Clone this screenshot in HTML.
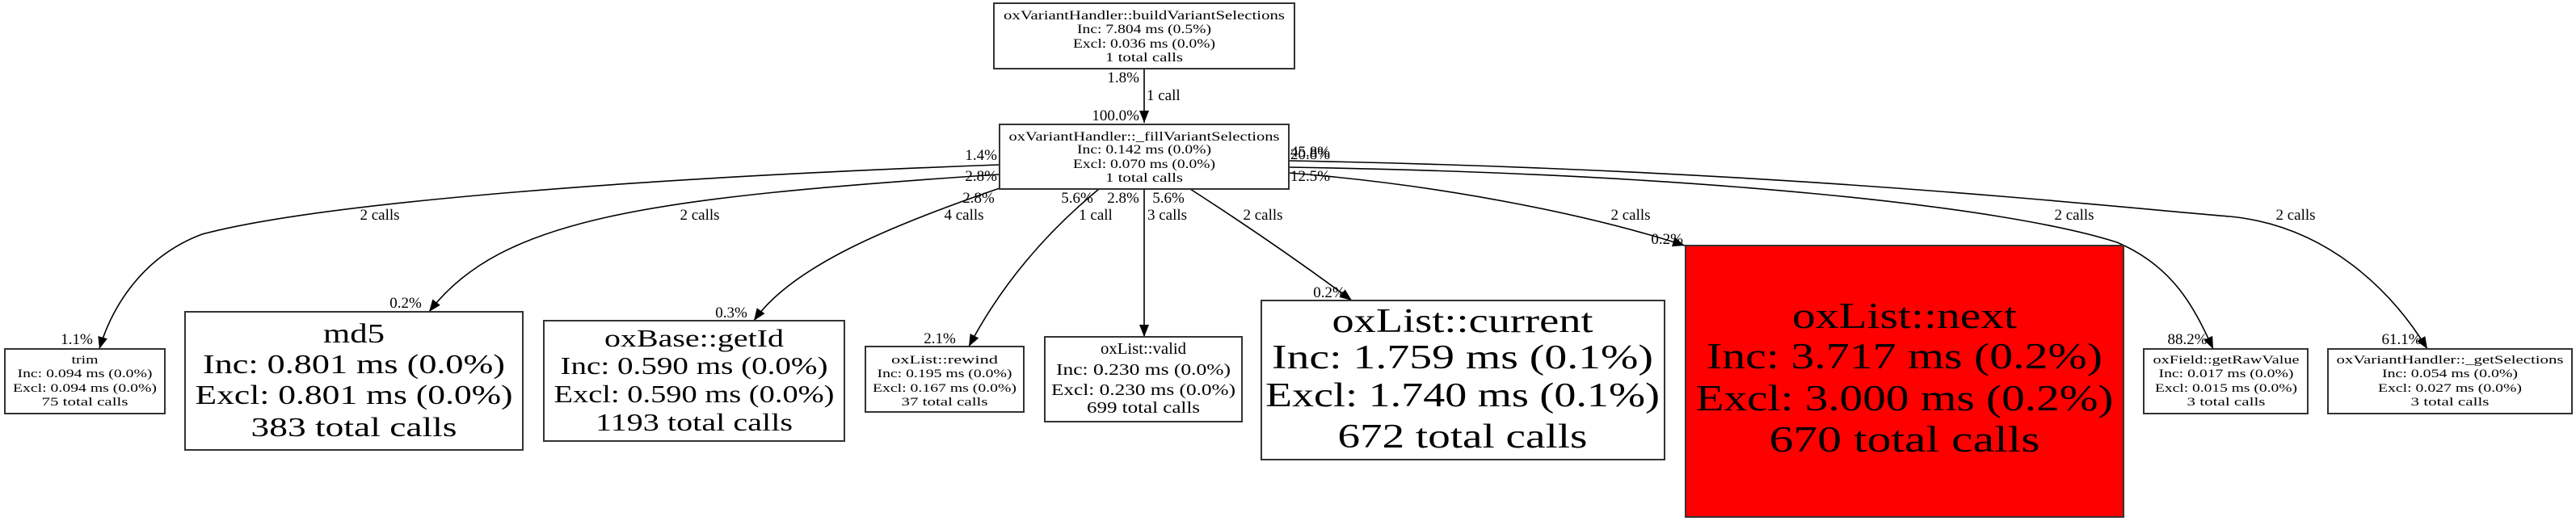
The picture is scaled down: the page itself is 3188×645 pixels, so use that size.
<!DOCTYPE html>
<html><head><meta charset="utf-8"><style>html,body{margin:0;padding:0;background:#fff}svg{display:block}text{font-family:"Liberation Serif",serif;fill:#000}</style></head><body>
<svg width="3188" height="645" viewBox="0 0 3188 645" xmlns="http://www.w3.org/2000/svg">
<defs><marker id="a" markerUnits="userSpaceOnUse" markerWidth="16" markerHeight="12" refX="15" refY="6" orient="auto"><path d="M0,0 L15,6 L0,12 z" fill="#000"/></marker></defs>
<g fill="none" stroke="#000" stroke-width="1.6">
<path d="M1416,85 L1416,152" marker-end="url(#a)"/>
<path d="M1236,204 C800,220 400,250 250,290 C170,320 135,390 123,432" marker-end="url(#a)"/>
<path d="M1236,216 C800,245 620,270 531,386" marker-end="url(#a)"/>
<path d="M1240,232 C1100,280 980,330 933,397" marker-end="url(#a)"/>
<path d="M1360,234 C1280,300 1230,370 1199,429" marker-end="url(#a)"/>
<path d="M1416,234 L1416,417" marker-end="url(#a)"/>
<path d="M1473,234 C1560,290 1630,340 1673,372" marker-end="url(#a)"/>
<path d="M1595,214 C1800,230 1980,270 2085,304" marker-end="url(#a)"/>
<path d="M1595,207 C2100,215 2480,255 2620,300 C2690,330 2715,380 2739,432" marker-end="url(#a)"/>
<path d="M1595,199 C2200,210 2600,255 2760,268 C2880,280 2960,360 3004,432" marker-end="url(#a)"/>
</g>
<g stroke="#333" stroke-width="2" fill="#fff">
<rect x="1230" y="4" width="372" height="81"/>
<rect x="1237" y="154" width="358" height="80"/>
<rect x="6" y="432" width="198" height="80"/>
<rect x="229" y="386" width="418" height="171"/>
<rect x="673" y="397" width="372" height="149"/>
<rect x="1071" y="429" width="196" height="81"/>
<rect x="1293" y="417" width="244" height="105"/>
<rect x="1561" y="372" width="499" height="197"/>
<rect x="2086" y="304" width="542" height="336" fill="#ff0000"/>
<rect x="2653" y="432" width="203" height="80"/>
<rect x="2881" y="432" width="302" height="80"/>
</g>
<g text-anchor="middle">
<g font-size="16">
<text x="1416" y="24" textLength="348" lengthAdjust="spacingAndGlyphs">oxVariantHandler::buildVariantSelections</text>
<text x="1416" y="41" textLength="166" lengthAdjust="spacingAndGlyphs">Inc: 7.804 ms (0.5%)</text>
<text x="1416" y="59" textLength="176" lengthAdjust="spacingAndGlyphs">Excl: 0.036 ms (0.0%)</text>
<text x="1416" y="76" textLength="96" lengthAdjust="spacingAndGlyphs">1 total calls</text>
<text x="1416" y="174" textLength="335" lengthAdjust="spacingAndGlyphs">oxVariantHandler::_fillVariantSelections</text>
<text x="1416" y="190" textLength="166" lengthAdjust="spacingAndGlyphs">Inc: 0.142 ms (0.0%)</text>
<text x="1416" y="208" textLength="176" lengthAdjust="spacingAndGlyphs">Excl: 0.070 ms (0.0%)</text>
<text x="1416" y="225" textLength="96" lengthAdjust="spacingAndGlyphs">1 total calls</text>
</g>
<g font-size="15">
<text x="105" y="450" textLength="33" lengthAdjust="spacingAndGlyphs">trim</text>
<text x="105" y="467" textLength="167" lengthAdjust="spacingAndGlyphs">Inc: 0.094 ms (0.0%)</text>
<text x="105" y="485" textLength="178" lengthAdjust="spacingAndGlyphs">Excl: 0.094 ms (0.0%)</text>
<text x="105" y="502" textLength="107" lengthAdjust="spacingAndGlyphs">75 total calls</text>
<text x="1169" y="450" textLength="132" lengthAdjust="spacingAndGlyphs">oxList::rewind</text>
<text x="1169" y="467" textLength="167" lengthAdjust="spacingAndGlyphs">Inc: 0.195 ms (0.0%)</text>
<text x="1169" y="485" textLength="178" lengthAdjust="spacingAndGlyphs">Excl: 0.167 ms (0.0%)</text>
<text x="1169" y="502" textLength="107" lengthAdjust="spacingAndGlyphs">37 total calls</text>
<text x="2755" y="450" textLength="181" lengthAdjust="spacingAndGlyphs">oxField::getRawValue</text>
<text x="2755" y="467" textLength="167" lengthAdjust="spacingAndGlyphs">Inc: 0.017 ms (0.0%)</text>
<text x="2755" y="485" textLength="176" lengthAdjust="spacingAndGlyphs">Excl: 0.015 ms (0.0%)</text>
<text x="2755" y="502" textLength="97" lengthAdjust="spacingAndGlyphs">3 total calls</text>
<text x="3032" y="450" textLength="281" lengthAdjust="spacingAndGlyphs">oxVariantHandler::_getSelections</text>
<text x="3032" y="467" textLength="168" lengthAdjust="spacingAndGlyphs">Inc: 0.054 ms (0.0%)</text>
<text x="3032" y="485" textLength="178" lengthAdjust="spacingAndGlyphs">Excl: 0.027 ms (0.0%)</text>
<text x="3032" y="502" textLength="97" lengthAdjust="spacingAndGlyphs">3 total calls</text>
</g>
<g font-size="34">
<text x="438" y="424" textLength="76" lengthAdjust="spacingAndGlyphs">md5</text>
<text x="438" y="462" textLength="374" lengthAdjust="spacingAndGlyphs">Inc: 0.801 ms (0.0%)</text>
<text x="438" y="500" textLength="393" lengthAdjust="spacingAndGlyphs">Excl: 0.801 ms (0.0%)</text>
<text x="438" y="540" textLength="255" lengthAdjust="spacingAndGlyphs">383 total calls</text>
</g>
<g font-size="31">
<text x="859" y="429" textLength="222" lengthAdjust="spacingAndGlyphs">oxBase::getId</text>
<text x="859" y="463" textLength="331" lengthAdjust="spacingAndGlyphs">Inc: 0.590 ms (0.0%)</text>
<text x="859" y="498" textLength="347" lengthAdjust="spacingAndGlyphs">Excl: 0.590 ms (0.0%)</text>
<text x="859" y="533" textLength="244" lengthAdjust="spacingAndGlyphs">1193 total calls</text>
</g>
<g font-size="20">
<text x="1415" y="438" textLength="106" lengthAdjust="spacingAndGlyphs">oxList::valid</text>
<text x="1415" y="464" textLength="216" lengthAdjust="spacingAndGlyphs">Inc: 0.230 ms (0.0%)</text>
<text x="1415" y="489" textLength="228" lengthAdjust="spacingAndGlyphs">Excl: 0.230 ms (0.0%)</text>
<text x="1415" y="511" textLength="140" lengthAdjust="spacingAndGlyphs">699 total calls</text>
</g>
<g font-size="42">
<text x="1810" y="411" textLength="323" lengthAdjust="spacingAndGlyphs">oxList::current</text>
<text x="1810" y="456" textLength="472" lengthAdjust="spacingAndGlyphs">Inc: 1.759 ms (0.1%)</text>
<text x="1810" y="503" textLength="488" lengthAdjust="spacingAndGlyphs">Excl: 1.740 ms (0.1%)</text>
<text x="1810" y="554" textLength="309" lengthAdjust="spacingAndGlyphs">672 total calls</text>
</g>
<g font-size="46">
<text x="2357" y="406" textLength="278" lengthAdjust="spacingAndGlyphs">oxList::next</text>
<text x="2357" y="456" textLength="490" lengthAdjust="spacingAndGlyphs">Inc: 3.717 ms (0.2%)</text>
<text x="2357" y="508" textLength="517" lengthAdjust="spacingAndGlyphs">Excl: 3.000 ms (0.2%)</text>
<text x="2357" y="559" textLength="335" lengthAdjust="spacingAndGlyphs">670 total calls</text>
</g>
</g>
<g font-size="19">
<g text-anchor="end">
<text x="1410" y="102">1.8%</text>
<text x="1410" y="149">100.0%</text>
<text x="1234" y="198">1.4%</text>
<text x="1234" y="224">2.8%</text>
<text x="2083" y="302">0.2%</text>
</g>
<g text-anchor="start">
<text x="1419" y="124">1 call</text>
<text x="1597" y="194">45.8%</text>
<text x="1597" y="197">20.8%</text>
<text x="1597" y="224">12.5%</text>
<text x="1420" y="272">3 calls</text>
</g>
<g text-anchor="middle">
<text x="1211" y="251">2.8%</text>
<text x="1333" y="251">5.6%</text>
<text x="1390" y="251">2.8%</text>
<text x="1446" y="251">5.6%</text>
<text x="470" y="272">2 calls</text>
<text x="866" y="272">2 calls</text>
<text x="1193" y="272">4 calls</text>
<text x="1356" y="272">1 call</text>
<text x="1563" y="272">2 calls</text>
<text x="2018" y="272">2 calls</text>
<text x="2567" y="272">2 calls</text>
<text x="2841" y="272">2 calls</text>
<text x="95" y="426">1.1%</text>
<text x="502" y="381">0.2%</text>
<text x="905" y="393">0.3%</text>
<text x="1163" y="425">2.1%</text>
<text x="1645" y="368">0.2%</text>
<text x="2707" y="426">88.2%</text>
<text x="2972" y="426">61.1%</text>
</g>
</g>
</svg>
</body></html>
